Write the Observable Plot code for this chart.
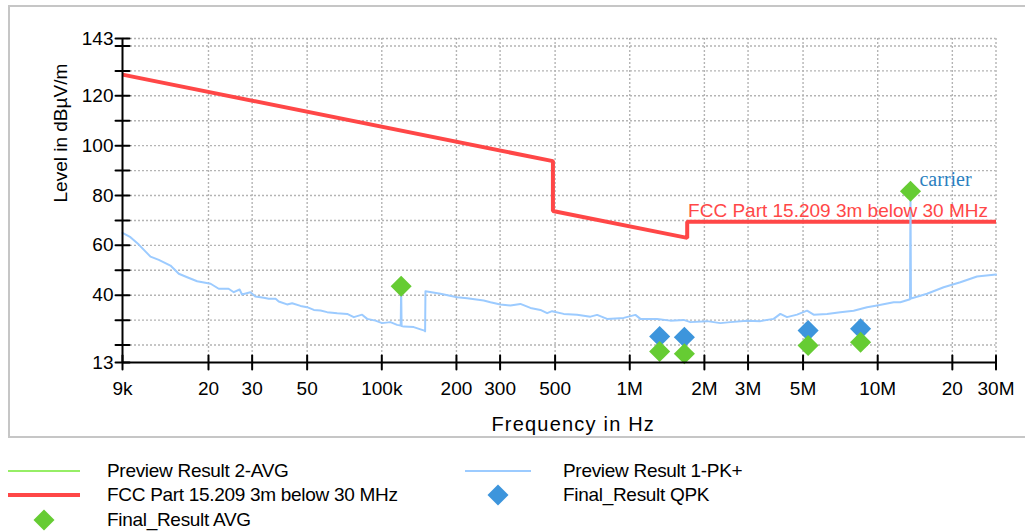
<!DOCTYPE html>
<html>
<head>
<meta charset="utf-8">
<script src="https://cdn.jsdelivr.net/npm/d3@7"></script>
<script src="https://cdn.jsdelivr.net/npm/@observablehq/plot@0.6"></script>
<style>
  html, body { margin: 0; padding: 0; background: #fff; width: 1025px; height: 531px; overflow: hidden; }
  body { position: relative; font-family: "Liberation Sans", Arial, sans-serif; }
  #frame { position: absolute; left: 8px; top: 5px; width: 1040px; height: 433px; box-sizing: border-box; border: 2px solid #c6c6c6; }
  #chart { position: absolute; left: 0; top: 0; }
  #legend { position: absolute; left: 0; top: 0; width: 1025px; height: 531px; pointer-events: none; }
  .entry { position: absolute; height: 24px; display: flex; align-items: center; }
  .entry span { position: absolute; font-size: 19px; letter-spacing: -0.3px; white-space: nowrap; color: #000; line-height: 24px; }
  .xtitle text { letter-spacing: 1.2px; }
</style>
</head>
<body>
<div id="frame"></div>
<div id="chart"></div>
<div id="legend"></div>
<script>
// Frequency axis ticks (Hz) and their labels
const xTicks = [9e3, 2e4, 3e4, 5e4, 1e5, 2e5, 3e5, 5e5, 1e6, 2e6, 3e6, 5e6, 1e7, 2e7, 3e7];
const xTickLabels = ["9k", "20", "30", "50", "100k", "200", "300", "500", "1M", "2M", "3M", "5M", "10M", "20", "30M"];

// Level axis (dBµV/m)
const yLabeled = [13, 40, 60, 80, 100, 120, 143];
const yMinor = [13, 20, 30, 40, 50, 60, 70, 80, 90, 100, 110, 120, 130, 140, 143];
const yGrid = [20, 30, 40, 50, 60, 70, 80, 90, 100, 110, 120, 130, 140, 143];

// FCC Part 15.209 limit, 3 m below 30 MHz
const limitFreq = [9000, 490000, 490000, 1705000, 1705000, 30000000];
const limitLevel = [128.5, 93.8, 73.8, 63.0, 69.5, 69.5];

// Preview Result 1-PK+ trace
const traceFreq = [9000, 9690, 10470, 11670, 12610, 14050, 15180, 16410, 18000, 20400,
  22000, 24100, 25300, 26700, 27300, 29500, 30900, 33400, 35000, 37300,
  38400, 41500, 43500, 47000, 50000, 53200, 56600, 60200, 66100, 72500,
  77100, 83300, 87300, 94300, 100300, 108300, 115300, 119200, 119700, 120200,
  122600, 134500, 148500, 149500, 150000, 172400, 201300, 220900, 257700, 274200,
  300800, 330100, 362200, 397600, 436200, 464200, 486300, 541500, 613300, 694000,
  738600, 810400, 945400, 1054000, 1104000, 1289000, 1458000, 1650000, 1756000, 2051000,
  2320000, 2546000, 2973000, 3364000, 3805000, 4049000, 4308000, 4729000, 5189000, 5516000,
  6248000, 7069000, 7998000, 9057000, 9938000, 11600000, 12340000, 13500000, 13560000, 13620000,
  15810000, 18450000, 21540000, 25150000, 29340000, 30000000];
const traceLevel = [65.0, 63.3, 60.3, 55.5, 54.2, 51.9, 48.6, 47.2, 45.6, 44.6,
  42.6, 42.6, 41.2, 42.3, 40.3, 41.2, 39.5, 39.0, 38.6, 38.6,
  37.5, 36.3, 36.8, 35.7, 35.2, 34.1, 33.9, 33.2, 32.8, 32.5,
  31.2, 32.2, 30.5, 29.8, 28.8, 29.2, 28.1, 27.8, 43.0, 27.6,
  27.4, 27.2, 25.8, 25.5, 41.6, 40.6, 39.2, 38.8, 37.9, 37.2,
  36.3, 35.9, 36.5, 34.9, 34.1, 32.8, 33.6, 32.5, 32.2, 31.4,
  32.1, 30.5, 30.9, 32.1, 30.5, 30.5, 29.8, 30.1, 29.2, 29.6,
  28.8, 29.2, 29.8, 29.6, 30.5, 32.5, 31.2, 32.2, 33.8, 32.2,
  32.5, 33.2, 33.8, 35.2, 35.9, 37.2, 37.2, 38.4, 81.5, 38.7,
  40.6, 43.2, 45.2, 47.5, 48.2, 48.3];

// Final results
const qpkFreq = [1320000, 1661000, 5240000, 8530000];
const qpkLevel = [23.4, 23.1, 25.8, 26.5];
const avgFreq = [119700, 1320000, 1661000, 5240000, 8530000, 13560000];
const avgLevel = [43.6, 17.4, 16.5, 19.8, 21.1, 81.7];

// Texts
const limitName = "FCC Part 15.209 3m below 30 MHz";
const carrierNote = "carrier";
const xTitle = "Frequency in Hz";
const yTitle = "Level in dBµV/m";
const legendLabels = ["Preview Result 2-AVG", "Preview Result 1-PK+", limitName, "Final_Result QPK", "Final_Result AVG"];

const RED = "#ff4747", TRACE = "#9ccbff", GREEN = "#66cc33", BLUE = "#3d95dc", AVGLINE = "#96ee66";

const limit = limitFreq.map((f, i) => ({f, v: limitLevel[i]}));
const trace = traceFreq.map((f, i) => ({f, v: traceLevel[i]}));
const qpk = qpkFreq.map((f, i) => ({f, v: qpkLevel[i]}));
const avg = avgFreq.map((f, i) => ({f, v: avgLevel[i]}));

// a plain line segment used for the crossing tick marks
const bar = {draw(context, l) { context.moveTo(0, 0); context.lineTo(0, -l); }};
const grid = {stroke: "#b4b4b4", strokeWidth: 1.4, strokeDasharray: "2,2"};

const chart = Plot.plot({
  width: 1025,
  height: 440,
  marginLeft: 122,
  marginRight: 29.5,
  marginTop: 38,
  marginBottom: 78,
  x: {type: "log", domain: [9e3, 3e7], axis: null},
  y: {domain: [13, 143]},
  style: {fontFamily: "'Liberation Sans', Arial, sans-serif", fontSize: "19px", color: "#000", background: "transparent", overflow: "visible"},
  marks: [
    Plot.ruleY(yGrid, grid),
    Plot.ruleX(xTicks.slice(1), grid),
    Plot.line(limit, {x: "f", y: "v", stroke: RED, strokeWidth: 4, strokeLinejoin: "miter", strokeLinecap: "butt"}),
    Plot.line(trace, {x: "f", y: "v", stroke: TRACE, strokeWidth: 2}),
    Plot.dot(qpk, {x: "f", y: "v", symbol: "diamond2", r: 9.5, fill: BLUE, stroke: null}),
    Plot.dot(avg, {x: "f", y: "v", symbol: "diamond2", r: 9.5, fill: GREEN, stroke: null}),
    Plot.ruleY([yMinor[0]], {stroke: "#000", strokeWidth: 2}),
    Plot.ruleX([xTicks[0]], {stroke: "#000", strokeWidth: 2}),
    Plot.vector(xTicks, {x: d => d, y: yMinor[0], length: 14, anchor: "middle", shape: bar, stroke: "#000", strokeWidth: 2}),
    Plot.vector(yMinor, {x: xTicks[0], y: d => d, length: 14, rotate: 90, anchor: "middle", shape: bar, stroke: "#000", strokeWidth: 2}),
    // frequency tick labels
    Plot.text(xTicks, {x: d => d, text: (d, i) => xTickLabels[i], frameAnchor: "bottom", lineAnchor: "top", dy: 19, fontSize: 19}),
    Plot.axisY({ticks: yLabeled, tickFormat: d => String(d), tickSize: 0, tickPadding: 9, label: null, fontSize: 19}),
    Plot.text([xTitle], {frameAnchor: "bottom", dx: 14, dy: 62, fontSize: 20, lineAnchor: "middle", className: "xtitle"}),
    Plot.text([yTitle], {frameAnchor: "left", rotate: -90, dx: -62, dy: 2, fontSize: 19, lineAnchor: "middle"}),
    Plot.text([limitName], {x: () => limitFreq[limitFreq.length - 1], y: () => limitLevel[limitLevel.length - 1], textAnchor: "end", lineAnchor: "bottom", dx: -8, dy: -5, fill: RED, fontSize: 19}),
    Plot.text([carrierNote], {x: () => avgFreq[avgFreq.length - 1], y: () => avgLevel[avgLevel.length - 1], textAnchor: "start", lineAnchor: "bottom", dx: 9, dy: -5, fill: "#2b7fc0", fontSize: 20, fontFamily: "'Liberation Serif', 'Times New Roman', serif"})
  ]
});
document.getElementById("chart").appendChild(chart);

// Legend below the chart
const legend = d3.select("#legend");
const entries = [
  {label: legendLabels[0], col: 0, row: 0, kind: "line", color: AVGLINE, w: 2},
  {label: legendLabels[1], col: 1, row: 0, kind: "line", color: TRACE, w: 2},
  {label: legendLabels[2], col: 0, row: 1, kind: "line", color: RED, w: 4},
  {label: legendLabels[3], col: 1, row: 1, kind: "diamond", color: BLUE},
  {label: legendLabels[4], col: 0, row: 2, kind: "diamond", color: GREEN}
];
const colX = [8, 465], colW = [72, 66], textX = [107, 563];
for (const e of entries) {
  const top = 458.5 + e.row * 24.5;
  const g = legend.append("div").attr("class", "entry").style("left", colX[e.col] + "px").style("top", top + "px");
  const s = g.append("svg").attr("width", colW[e.col]).attr("height", 24);
  if (e.kind === "line") {
    s.append("line").attr("x1", 0).attr("x2", colW[e.col]).attr("y1", 12).attr("y2", 12)
      .attr("stroke", e.color).attr("stroke-width", e.w);
  } else {
    const cx = colW[e.col] / 2, r = 10.5;
    s.append("path").attr("d", `M${cx},${12 - r}L${cx + r},12L${cx},${12 + r}L${cx - r},12Z`).attr("fill", e.color);
  }
  legend.append("div").attr("class", "entry").style("left", textX[e.col] + "px").style("top", top + "px")
    .append("span").style("top", "0px").text(e.label);
}
</script>
</body>
</html>
